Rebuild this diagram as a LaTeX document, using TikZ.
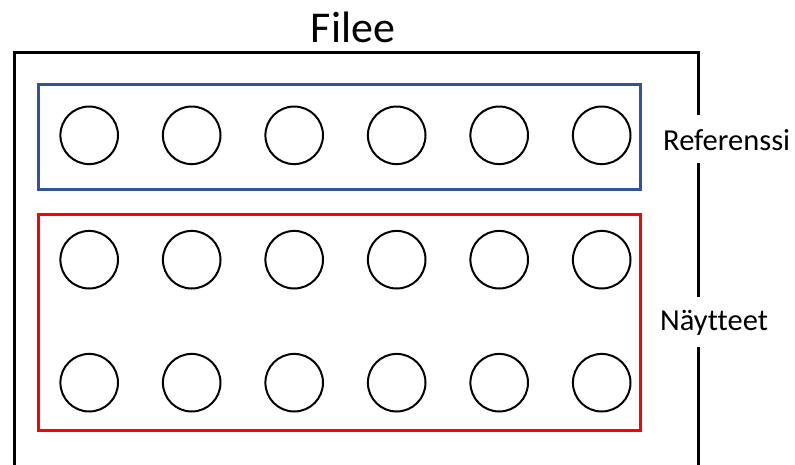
\documentclass[tikz,border=0pt]{standalone}
\usepackage{fontspec}
\setmainfont[Ligatures=NoCommon]{Carlito}
\definecolor{refblue}{RGB}{47,85,151}
\definecolor{samplered}{RGB}{255,0,0}
\begin{document}
\begin{tikzpicture}[x=1pt,y=-1pt,
  well/.style={circle,draw=black,line width=2pt,minimum size=57.6pt,inner sep=0pt},
  frame/.style={draw=black,line width=3pt},
  groupbox/.style={line width=3pt},
  sidelabel/.style={fill=white,inner xsep=4pt,inner ysep=0pt,anchor=base west,font=\fontsize{30.5}{36}\selectfont}]
\useasboundingbox (0,0) rectangle (795,464);
\clip (0,0) rectangle (795,464);

% plate outline, open at the bottom edge
\coordinate (pbl) at (14.2,480);
\coordinate (ptl) at (14.2,52.3);
\coordinate (ptr) at (698,52.3);
\coordinate (pbr) at (698,480);
\draw[frame,line join=miter] (pbl) -- (ptl) -- (ptr) -- (pbr);

\node[anchor=base,font=\fontsize{44}{50}\selectfont,inner sep=0pt] (title) at (353,42.7) {Filee};

% reference row
\draw[groupbox,draw=refblue] (38.5,84.5) rectangle (640,189);
% sample rows
\draw[groupbox,draw=samplered] (38.5,214) rectangle (640,430);

\foreach \i/\x in {1/89.2,2/191.7,3/294.2,4/396.7,5/499.2,6/601.7}{
  \node[well] (r\i) at (\x,135.3) {};
  \node[well] (a\i) at (\x,259.7) {};
  \node[well] (b\i) at (\x,382.7) {};
}

\node[sidelabel,text height=35.7pt,text depth=12.3pt] (ref) at (659,150.7) {Referenssi};
\node[sidelabel,text height=33pt,text depth=17pt] (samp) at (656,330) {Näytteet};
\end{tikzpicture}
\end{document}
